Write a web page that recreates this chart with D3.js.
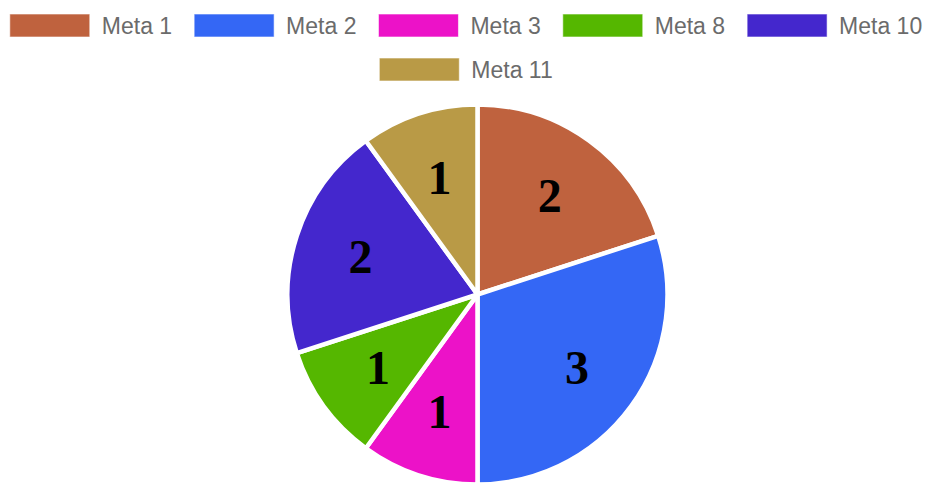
<!DOCTYPE html>
<html>
<head>
<meta charset="utf-8">
<script src="https://cdn.jsdelivr.net/npm/d3@7"></script>
<style>
  html, body { margin: 0; padding: 0; background: #fff; }
  svg { display: block; }
</style>
</head>
<body>
<svg id="chart" width="932" height="483"></svg>
<script>
const categories = ["Meta 1", "Meta 2", "Meta 3", "Meta 8", "Meta 10", "Meta 11"];
const values = [2, 3, 1, 1, 2, 1];
const colors = ["#bf623e", "#3467f5", "#ec12c8", "#55b700", "#4427cd", "#b99a46"];

const W = 932, H = 483;
const svg = d3.select("#chart");

// ----- Legend -----
const legendFont = "23px 'Liberation Sans', Arial, Helvetica, sans-serif";
const boxW = 80, boxH = 23, boxGap = 12, itemGap = 22, rowH = 44, legendTop = 14;
const maxRowW = W - 10;

const legend = svg.append("g").attr("class", "legend");
const measure = legend.append("text").style("font", legendFont).attr("visibility", "hidden");
const items = categories.map((c, i) => {
  measure.text(c);
  const tw = measure.node().getComputedTextLength();
  return { name: c, color: colors[i], w: boxW + boxGap + tw, tw };
});
measure.remove();

const rows = [];
let cur = [], curW = 0;
items.forEach(it => {
  const add = (cur.length ? itemGap : 0) + it.w;
  if (cur.length && curW + add > maxRowW) {
    rows.push({ items: cur, w: curW });
    cur = [it]; curW = it.w;
  } else { cur.push(it); curW += add; }
});
if (cur.length) rows.push({ items: cur, w: curW });

rows.forEach((row, r) => {
  let x = (W - row.w) / 2;
  const y = legendTop + r * rowH;
  row.items.forEach(it => {
    const g = legend.append("g").attr("transform", `translate(${x},${y})`);
    g.append("rect").attr("width", boxW).attr("height", boxH)
      .attr("fill", it.color).attr("stroke", "rgba(255,255,255,0.6)").attr("stroke-width", 1);
    g.append("text").attr("x", boxW + boxGap).attr("y", boxH / 2)
      .attr("dy", "0.36em").style("font", legendFont).attr("fill", "#6b6b6b").text(it.name);
    x += it.w + itemGap;
  });
});

// ----- Pie -----
const cx = 477.5, cy = 294.5, R = 190;
const pie = d3.pie().value(d => d).sort(null);
const arcs = pie(values);
const arc = d3.arc().innerRadius(0).outerRadius(R);
const labelR = 123;
const labelArc = d3.arc().innerRadius(2 * labelR).outerRadius(0); // centroid at radius labelR

const g = svg.append("g").attr("transform", `translate(${cx},${cy})`);
g.selectAll("path").data(arcs).join("path")
  .attr("d", arc)
  .attr("fill", (d, i) => colors[i])
  .attr("stroke", "#fff")
  .attr("stroke-width", 4.5)
  .attr("stroke-linejoin", "round");

g.selectAll("text.lbl").data(arcs).join("text")
  .attr("class", "lbl")
  .attr("transform", d => `translate(${labelArc.centroid(d)})`)
  .attr("text-anchor", "middle")
  .attr("dy", "0.35em")
  .style("font", "bold 48px 'Liberation Serif', 'Times New Roman', serif")
  .attr("fill", "#000")
  .text(d => d.data);
</script>
</body>
</html>
